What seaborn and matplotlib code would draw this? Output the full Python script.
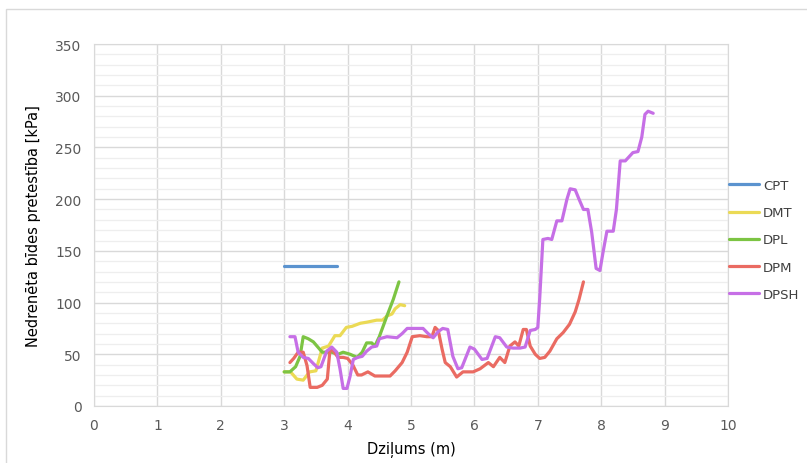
import numpy as np
import pandas as pd
import seaborn as sns
import matplotlib.pyplot as plt
from matplotlib.patches import Rectangle

# depth (m) and resistance (kPa)
cpt_x = [3.0, 3.83]
cpt_y = [135, 135]

dmt_x = [3.0, 3.1, 3.2, 3.3, 3.4, 3.5, 3.6, 3.7, 3.8, 3.88, 3.98, 4.07, 4.2, 4.3, 4.46, 4.55,
         4.62, 4.7, 4.75, 4.83, 4.9]
dmt_y = [33, 33, 26, 25, 33, 34, 56, 58, 68, 68, 76, 77, 80, 81, 83, 83, 87, 89, 94, 98, 97]

dpl_x = [3.0, 3.09, 3.18, 3.25, 3.3, 3.38, 3.46, 3.53, 3.6, 3.75, 3.85, 3.93, 4.04, 4.15,
         4.23, 4.3, 4.38, 4.43, 4.5, 4.62, 4.72, 4.81]
dpl_y = [33, 33, 38, 48, 67, 65, 62, 57, 52, 52, 50, 52, 50, 47, 52, 61, 61, 58, 67, 87,
         103, 120]

dpm_x = [3.09, 3.15, 3.22, 3.3, 3.36, 3.41, 3.52, 3.6, 3.68, 3.72, 3.75, 3.85, 3.93, 4.0,
         4.08, 4.16, 4.22, 4.32, 4.43, 4.56, 4.67, 4.75, 4.86, 4.94, 5.02, 5.14, 5.25, 5.33,
         5.38, 5.43, 5.49, 5.54, 5.62, 5.72, 5.82, 5.98, 6.09, 6.22, 6.3, 6.4, 6.48, 6.56,
         6.64, 6.7, 6.77, 6.82, 6.88, 6.96, 7.03, 7.11, 7.19, 7.3, 7.4, 7.5, 7.59, 7.65, 7.72]
dpm_y = [42, 46, 52, 52, 39, 18, 18, 20, 26, 53, 55, 47, 47, 46, 40, 30, 30, 33, 29, 29,
         29, 34, 42, 52, 67, 68, 67, 67, 76, 73, 55, 42, 38, 28, 33, 33, 36, 42, 38, 47, 42,
         58, 62, 58, 74, 74, 58, 50, 46, 47, 53, 65, 71, 79, 91, 103, 120]

dpsh_x = [3.09, 3.17, 3.22, 3.3, 3.38, 3.46, 3.53, 3.58, 3.67, 3.75, 3.83, 3.88, 3.93, 3.99,
          4.04, 4.09, 4.16, 4.23, 4.3, 4.38, 4.46, 4.5, 4.62, 4.78, 4.86, 4.94, 5.1, 5.19,
          5.27, 5.35, 5.43, 5.5, 5.58, 5.66, 5.74, 5.8, 5.93, 6.0, 6.12, 6.2, 6.33, 6.4,
          6.51, 6.61, 6.72, 6.8, 6.88, 6.96, 7.0, 7.03, 7.08, 7.16, 7.22, 7.3, 7.38, 7.46,
          7.51, 7.59, 7.65, 7.72, 7.79, 7.85, 7.92, 7.98, 8.03, 8.09, 8.19, 8.24, 8.3, 8.38,
          8.5, 8.58, 8.64, 8.69, 8.74, 8.82]
dpsh_y = [67, 67, 52, 47, 46, 41, 37, 38, 53, 57, 52, 36, 17, 17, 29, 45, 47, 48, 53, 57,
          58, 65, 67, 66, 70, 75, 75, 75, 70, 66, 72, 75, 74, 48, 36, 37, 57, 55, 45, 46,
          67, 66, 57, 56, 56, 57, 73, 74, 76, 104, 161, 162, 161, 179, 179, 200, 210, 209,
          200, 190, 190, 168, 133, 131, 149, 169, 169, 190, 237, 237, 245, 246, 260, 282,
          285, 283]

series = {"CPT": (cpt_x, cpt_y), "DMT": (dmt_x, dmt_y), "DPL": (dpl_x, dpl_y),
          "DPM": (dpm_x, dpm_y), "DPSH": (dpsh_x, dpsh_y)}
colors = {"CPT": "#5B93CF", "DMT": "#EBDA55", "DPL": "#7CC443",
          "DPM": "#EA6B62", "DPSH": "#C66FE6"}

rows = []
for name, (xs, ys) in series.items():
    for i, (x, y) in enumerate(zip(xs, ys)):
        rows.append({"method": name, "order": i, "depth": x, "kpa": y})
df = pd.DataFrame(rows)

sns.set_style("white")
plt.rcParams["font.family"] = ["DejaVu Sans"]

fig = plt.figure(figsize=(8.07, 4.64), dpi=100)
ax = fig.add_axes([94 / 807, 57 / 464, 634 / 807, 362 / 464])

sns.lineplot(data=df, x="depth", y="kpa", hue="method", palette=colors,
             estimator=None, sort=False, linewidth=2.3, ax=ax, legend=False)

ax.set_xlim(0, 10)
ax.set_ylim(0, 350)
ax.set_xticks(range(0, 11))
ax.set_yticks(range(0, 351, 50))
ax.set_yticks(range(0, 351, 10), minor=True)
ax.grid(which="major", color="#D9D9D9", linewidth=1.0)
ax.grid(which="minor", axis="y", color="#EEEEEE", linewidth=0.9)
ax.set_axisbelow(True)
for s in ax.spines.values():
    s.set_color("#D9D9D9")
ax.tick_params(which="both", length=0, labelsize=10, colors="#595959", pad=9)
ax.set_xlabel("Dziļums (m)", fontsize=10.5, color="black", labelpad=6)
ax.set_ylabel("Nedrenēta bīdes pretestība [kPa]", fontsize=10.5, color="black", labelpad=10)

handles = [plt.Line2D([], [], color=colors[n], linewidth=2.3) for n in series]
fig.legend(handles, list(series.keys()), loc="upper left",
           bbox_to_anchor=(721 / 807, 1 - 172 / 464), frameon=False,
           fontsize=9.5, handlelength=2.3, handletextpad=0.3,
           labelspacing=1.08, labelcolor="#404040", borderaxespad=0.2)

fig.patches.append(Rectangle((6 / 807, -0.1), 1.2, 1.1 - 10 / 464,
                             transform=fig.transFigure, fill=False,
                             edgecolor="#D9D9D9", linewidth=1.0))

fig.savefig("out.png", dpi=100)
